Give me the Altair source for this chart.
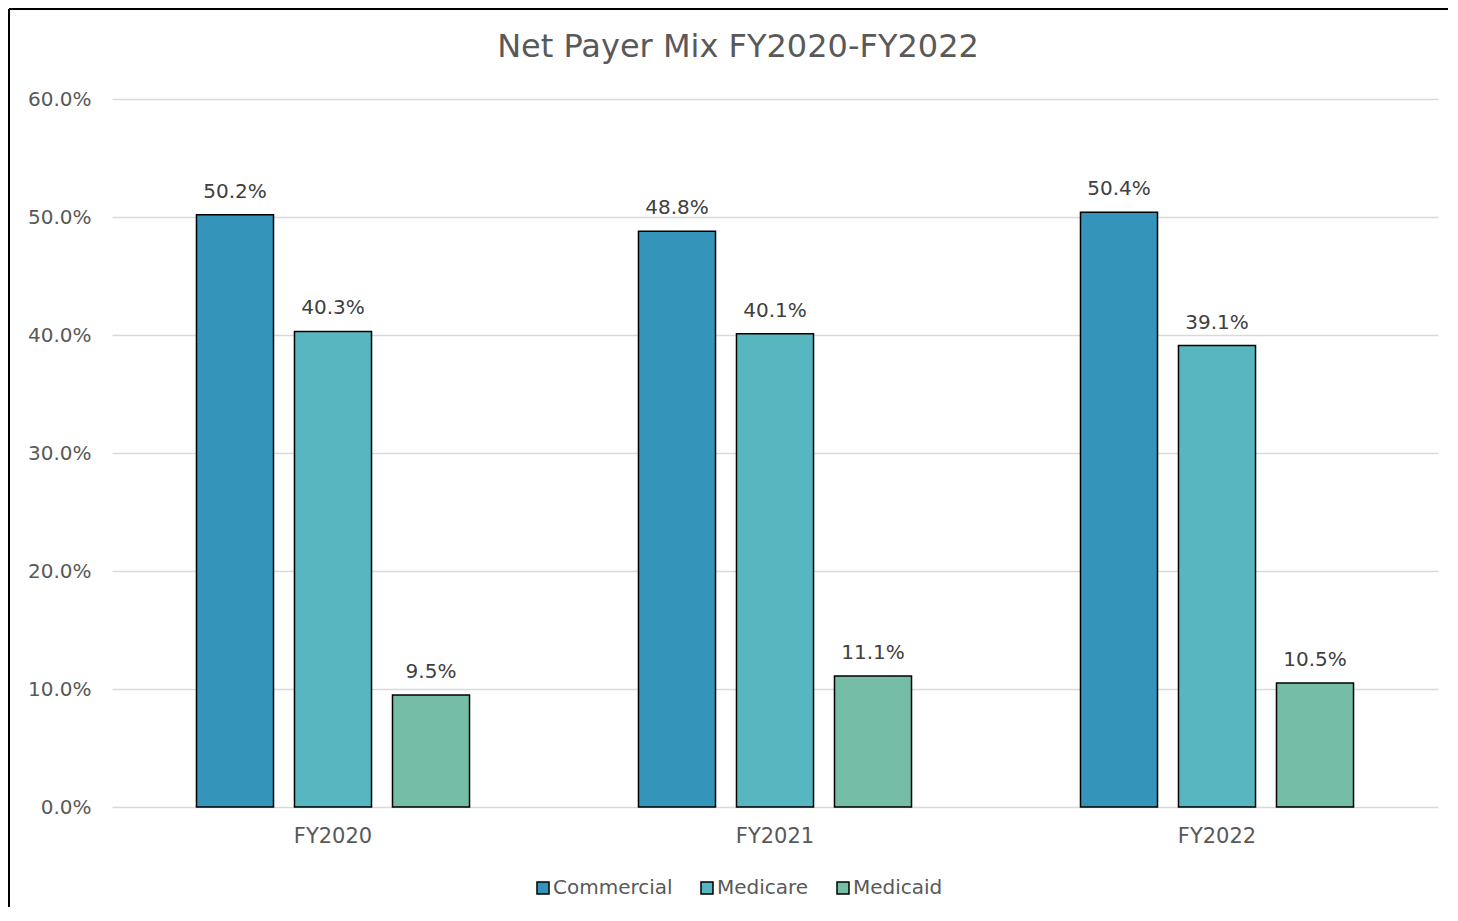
import altair as alt
import pandas as pd

title_text = "Net Payer Mix FY2020-FY2022"
years = ["FY2020", "FY2021", "FY2022"]
payers = ["Commercial", "Medicare", "Medicaid"]
commercial = [50.2, 48.8, 50.4]
medicare = [40.3, 40.1, 39.1]
medicaid = [9.5, 11.1, 10.5]
colors = ["#3494BA", "#58B6C0", "#75BDA7"]
y_ticks = [0, 10, 20, 30, 40, 50, 60]

rows = []
for series, vals in zip(payers, [commercial, medicare, medicaid]):
    for yr, v in zip(years, vals):
        rows.append({"year": yr, "payer": series, "value": v / 100.0})
df = pd.DataFrame(rows)

FONT = "DejaVu Sans"
GRAY = "#595959"

base = alt.Chart(df).encode(
    x=alt.X("year:N", sort=years, title=None,
            scale=alt.Scale(paddingInner=0, paddingOuter=0),
            axis=alt.Axis(labelAngle=0, ticks=False, domain=False, labelPadding=18,
                          labelFontSize=21, labelColor=GRAY, labelFont=FONT, grid=False)),
    xOffset=alt.XOffset("payer:N", sort=payers,
                        scale=alt.Scale(paddingInner=0.214, paddingOuter=0.862)),
    y=alt.Y("value:Q", title=None,
            scale=alt.Scale(domain=[0, 0.6], nice=False),
            axis=alt.Axis(values=[t / 100 for t in y_ticks], format=".1%", ticks=False,
                          domain=False, labelPadding=21, labelFontSize=20,
                          labelColor=GRAY, labelFont=FONT, gridColor="#d9d9d9",
                          gridWidth=1.5)),
)

bars = base.mark_bar(stroke="black", strokeWidth=1.5).encode(
    color=alt.Color("payer:N", sort=payers,
                    scale=alt.Scale(domain=payers, range=colors),
                    legend=alt.Legend(title=None, orient="none", legendX=421, legendY=779,
                                      direction="horizontal", symbolType="square",
                                      symbolSize=144, symbolStrokeColor="black",
                                      symbolStrokeWidth=1.5, labelFontSize=20,
                                      labelColor=GRAY, labelFont=FONT,
                                      columnPadding=24, labelOffset=0))
)

labels = base.mark_text(baseline="bottom", dy=-13, fontSize=20, color="#404040",
                        font=FONT).encode(text=alt.Text("value:Q", format=".1%"))

title_df = pd.DataFrame({"t": [title_text]})
title = alt.Chart(title_df).mark_text(fontSize=32, color=GRAY, font=FONT,
                                      align="center", baseline="middle").encode(
    text="t:N", x=alt.value(626), y=alt.value(-52))

frame_df = pd.DataFrame({"k": [0]})
left_line = alt.Chart(frame_df).mark_rule(color="black", strokeWidth=2).encode(
    x=alt.value(-103), y=alt.value(-90), y2=alt.value(812))
top_line = alt.Chart(frame_df).mark_rule(color="black", strokeWidth=2).encode(
    x=alt.value(-103), x2=alt.value(1346), y=alt.value(-90))

chart = alt.layer(bars, labels, title, left_line, top_line).properties(
    width=1326, height=708,
    autosize=alt.AutoSizeParams(type="none"),
    padding={"left": 104, "top": 91, "right": 10, "bottom": 100},
).configure_view(stroke=None)

chart.save("out.html", embed_options={"renderer": "svg", "actions": False})
